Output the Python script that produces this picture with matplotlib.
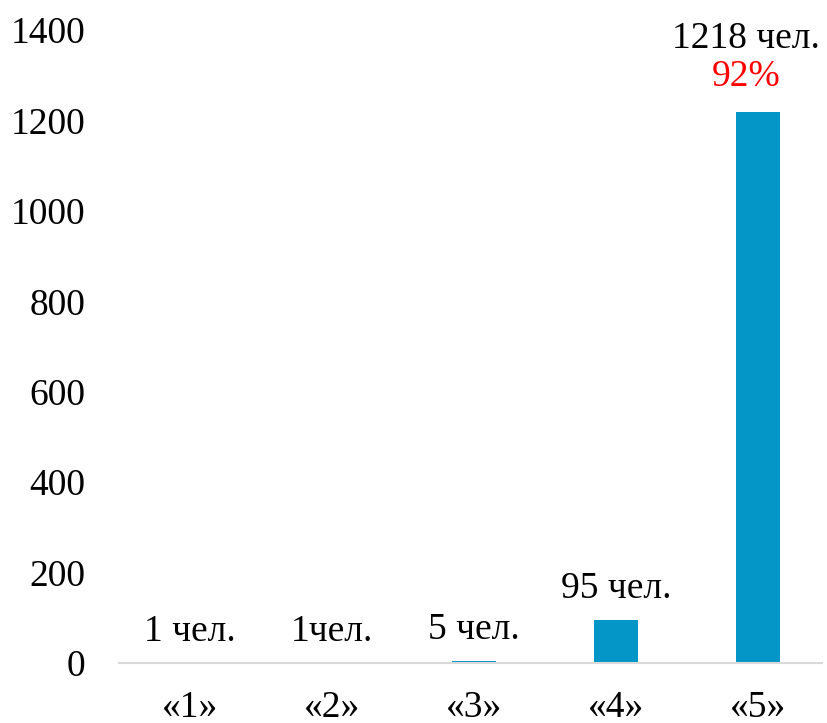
import matplotlib.pyplot as plt

categories = ["«1»", "«2»", "«3»", "«4»", "«5»"]
counts = [1, 1, 5, 95, 1218]
count_labels = ["1 чел.", "1чел.", "5 чел.", "95 чел.", "1218 чел."]
share_labels = ["", "", "", "", "92%"]
y_ticks = [0, 200, 400, 600, 800, 1000, 1200, 1400]

plt.rcParams['font.family'] = ['Liberation Serif', 'DejaVu Serif']

fig = plt.figure(figsize=(8.27, 7.23), dpi=100)
ax = fig.add_axes([119 / 827, 60 / 723, 710 / 827, 633 / 723])

x = range(len(categories))
ax.bar(x, counts, width=0.31, color="#0596C8", linewidth=0)

for i, (c, lab, share) in enumerate(zip(counts, count_labels, share_labels)):
    if share:
        # the top label is nudged left so it stays inside the picture
        ax.annotate(share, (i, c), xytext=(-12, 36), textcoords="offset pixels",
                    ha="center", va="center", fontsize=27, color="#FF0000")
        ax.annotate(lab, (i, c), xytext=(-12, 74), textcoords="offset pixels",
                    ha="center", va="center", fontsize=27, color="black")
    else:
        ax.annotate(lab, (i, c), xytext=(0, 31), textcoords="offset pixels",
                    ha="center", va="center", fontsize=27, color="black")

ax.set_xlim(-0.5, len(categories) - 0.5)
ax.set_ylim(0, 1400)
ax.set_yticks(y_ticks)
ax.set_xticks(list(x))
ax.set_xticklabels(categories)
ax.tick_params(axis="both", length=0, labelsize=27)
ax.tick_params(axis="y", pad=24)
ax.tick_params(axis="x", pad=20)

for side in ["left", "right", "top", "bottom"]:
    ax.spines[side].set_visible(False)
# baseline stops a little short of the right edge, as in the original
ax.axhline(0, xmin=0, xmax=(822 - 119) / 710, color="#D9D9D9", linewidth=1.5,
           clip_on=False)

fig.savefig("out.png", dpi=100)
